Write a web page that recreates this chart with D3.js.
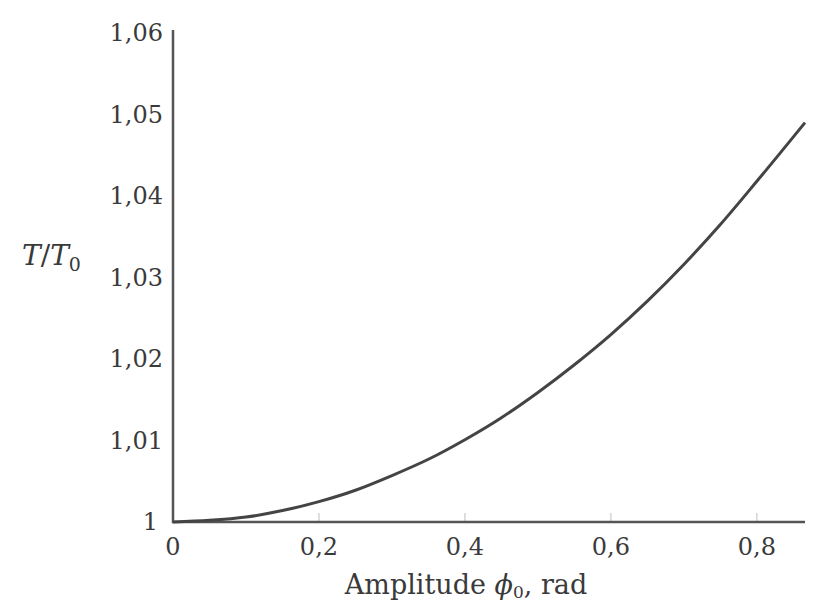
<!DOCTYPE html>
<html>
<head>
  <title>T/T0 vs amplitude</title>
  <script src="https://d3js.org/d3.v7.min.js"></script>
  <style>
    body { margin: 0; background: #fff; }
    text { font-family: "DejaVu Serif", "Liberation Serif", serif; fill: #3a3a3a; }
  </style>
</head>
<body>
  <div id="chart"></div>
  <script>
    // values
    const amplitude = [0, 0.05, 0.1, 0.15, 0.2, 0.25, 0.3, 0.35, 0.4, 0.45, 0.5, 0.55, 0.6, 0.65, 0.7, 0.75, 0.8, 0.866];
    const ratio = [1.0000, 1.0002, 1.0006, 1.0014, 1.0025, 1.0039, 1.0057, 1.0077, 1.0101, 1.0128, 1.0159, 1.0193, 1.0230, 1.0271, 1.0316, 1.0365, 1.0418, 1.0490];
    const xTicks = [0, 0.2, 0.4, 0.6, 0.8];
    const yTicks = [1, 1.01, 1.02, 1.03, 1.04, 1.05, 1.06];

    const width = 814, height = 605;
    const margin = { top: 33, right: 9, bottom: 83, left: 173 };

    const svg = d3.select("#chart")
      .append("svg")
      .attr("width", width)
      .attr("height", height);

    const x = d3.scaleLinear()
      .domain([0, 0.866])
      .range([margin.left, width - margin.right]);

    const y = d3.scaleLinear()
      .domain([1, 1.06])
      .range([height - margin.bottom, margin.top]);

    const fmt = d => d === 0 || d === 1 ? String(d) : d.toFixed(d < 1 ? 1 : 2).replace(".", ",");

    // faint ticks on the x axis
    svg.append("g")
      .selectAll("line")
      .data(xTicks.slice(1))
      .enter()
      .append("line")
      .attr("x1", d => x(d)).attr("x2", d => x(d))
      .attr("y1", y(1)).attr("y2", y(1) - 9)
      .attr("stroke", "#d4d4d4")
      .attr("stroke-width", 1.5);

    // x tick labels
    svg.append("g")
      .selectAll("text")
      .data(xTicks)
      .enter()
      .append("text")
      .attr("x", d => x(d))
      .attr("y", y(1) + 33)
      .attr("text-anchor", "middle")
      .style("font-size", "24px")
      .text(fmt);

    // y tick labels
    svg.append("g")
      .selectAll("text")
      .data(yTicks)
      .enter()
      .append("text")
      .attr("x", d => d === 1 ? 158 : 163)
      .attr("y", d => y(d) + 8)
      .attr("text-anchor", "end")
      .style("font-size", "24px")
      .text(fmt);

    // axes
    svg.append("path")
      .attr("d", `M${x(0)},${margin.top - 3}V${y(1)}H${x(0.866)}`)
      .attr("fill", "none")
      .attr("stroke", "#555")
      .attr("stroke-width", 2.5);

    // curve
    const line = d3.line()
      .x((d, i) => x(amplitude[i]))
      .y(d => y(d))
      .curve(d3.curveMonotoneX);

    svg.append("path")
      .datum(ratio)
      .attr("d", line)
      .attr("fill", "none")
      .attr("stroke", "#444")
      .attr("stroke-width", 3);

    // axis titles
    const yt = svg.append("text")
      .attr("x", 22)
      .attr("y", 265)
      .style("font-size", "28px");
    yt.append("tspan").style("font-style", "italic").text("T");
    yt.append("tspan").text("/");
    yt.append("tspan").style("font-style", "italic").text("T");
    yt.append("tspan").attr("dy", 6).style("font-size", "19px").text("0");

    const xt = svg.append("text")
      .attr("x", 466)
      .attr("y", 594)
      .attr("text-anchor", "middle")
      .style("font-size", "27px");
    xt.append("tspan").text("Amplitude ");
    xt.append("tspan").style("font-style", "italic").text("ϕ");
    xt.append("tspan").attr("dy", 4).style("font-size", "17px").text("0");
    xt.append("tspan").attr("dy", -4).text(", rad");
  </script>
</body>
</html>
